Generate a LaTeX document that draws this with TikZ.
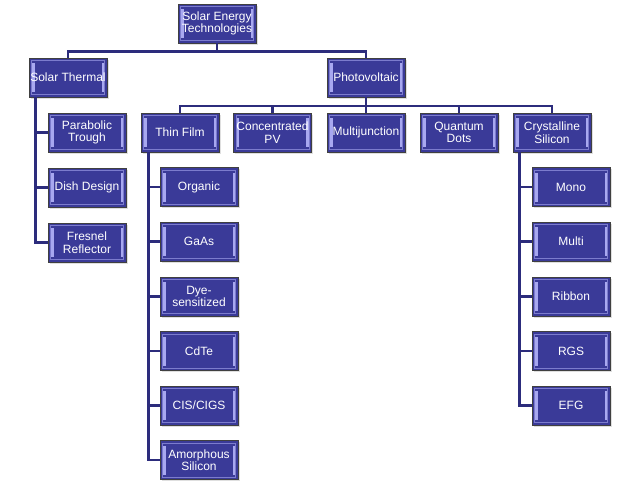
\documentclass[tikz,border=0pt]{standalone}
\usepackage{fontspec}
\setmainfont{Liberation Sans}
\usepackage{tikz}
\usetikzlibrary{shadows}
\definecolor{navy}{HTML}{3A3A98}
\definecolor{linenavy}{HTML}{2C2C7C}
\definecolor{bevel}{HTML}{A8A8F0}

\begin{document}
\begin{tikzpicture}[x=1pt,y=-1pt,
  box/.style={draw=black!75,line width=0.8pt,fill=navy,text=white,
    minimum width=78pt,minimum height=39pt,inner sep=1pt,align=center,
    font=\fontsize{12}{12.5}\selectfont,
    drop shadow={opacity=0.25,shadow xshift=1.5pt,shadow yshift=-1.5pt},
    path picture={
      \draw[bevel!60!navy,line width=0.7pt] ([shift={(2.5pt,2.5pt)}]path picture bounding box.south west) rectangle ([shift={(-2.5pt,-2.5pt)}]path picture bounding box.north east);
      \fill[bevel] ([shift={(3pt,5pt)}]path picture bounding box.south west) rectangle ([shift={(5.5pt,-5pt)}]path picture bounding box.north west);
      \fill[bevel] ([shift={(-5.5pt,5pt)}]path picture bounding box.south east) rectangle ([shift={(-3pt,-5pt)}]path picture bounding box.north east);
    }},
  conn/.style={draw=linenavy,line width=2.6pt}]
  \useasboundingbox (0,0) rectangle (640,488);

  \node[box] (root) at (217,23.5) {Solar Energy\\Technologies};
  \node[box] (st) at (68,77.5) {Solar Thermal};
  \node[box] (pv) at (366,77.5) {Photovoltaic};

  \node[box] (pt) at (87,132.5) {Parabolic\\Trough};
  \node[box] (dd) at (87,187.5) {Dish Design};
  \node[box] (fr) at (87,242.5) {Fresnel\\Reflector};

  \node[box] (tf) at (180,132.5) {Thin Film};
  \node[box] (cpv) at (272.5,132.5) {Concentrated\\PV};
  \node[box] (mj) at (366,132.5) {Multijunction};
  \node[box] (qd) at (459,132.5) {Quantum\\Dots};
  \node[box] (cs) at (552,132.5) {Crystalline\\Silicon};

  \node[box] (org) at (199,187) {Organic};
  \node[box] (gaas) at (199,241.5) {GaAs};
  \node[box] (dye) at (199,296.5) {Dye-\\sensitized};
  \node[box] (cdte) at (199,351) {CdTe};
  \node[box] (cis) at (199,405.5) {CIS/CIGS};
  \node[box] (asi) at (199,460) {Amorphous\\Silicon};

  \node[box] (mono) at (571,187) {Mono};
  \node[box] (multi) at (571,241.5) {Multi};
  \node[box] (ribbon) at (571,296.5) {Ribbon};
  \node[box] (rgs) at (571,351) {RGS};
  \node[box] (efg) at (571,405.5) {EFG};

  \draw[conn] (root.south) -- ++(0,8) -| (st.north);
  \draw[conn] (root.south) -- ++(0,8) -| (pv.north);
  \foreach \n in {tf,cpv,mj,qd,cs}
    \draw[conn] (pv.south) -- ++(0,8.5) -| (\n.north);
  \foreach \n in {pt,dd,fr}
    \draw[conn] ([xshift=7pt]st.south west) |- (\n.west);
  \foreach \n in {org,gaas,dye,cdte,cis,asi}
    \draw[conn] ([xshift=8pt]tf.south west) |- (\n.west);
  \foreach \n in {mono,multi,ribbon,rgs,efg}
    \draw[conn] ([xshift=7pt]cs.south west) |- (\n.west);
\end{tikzpicture}
\end{document}
